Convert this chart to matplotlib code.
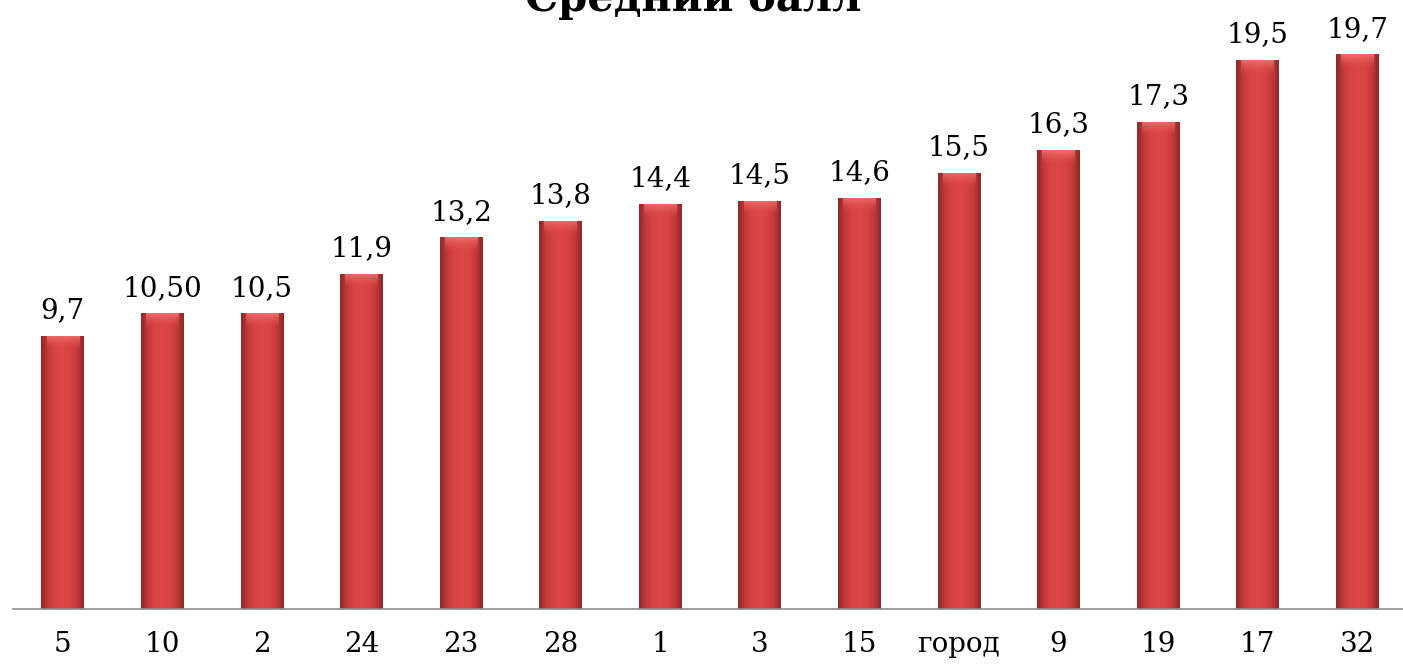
import matplotlib
matplotlib.use("Agg")
import matplotlib.pyplot as plt
import numpy as np
from matplotlib.colors import LinearSegmentedColormap

categories = ["5", "10", "2", "24", "23", "28", "1", "3", "15", "город", "9", "19", "17", "32"]
values = [9.7, 10.5, 10.5, 11.9, 13.2, 13.8, 14.4, 14.5, 14.6, 15.5, 16.3, 17.3, 19.5, 19.7]
value_labels = ["9,7", "10,50", "10,5", "11,9", "13,2", "13,8", "14,4", "14,5", "14,6",
                "15,5", "16,3", "17,3", "19,5", "19,7"]
title = "Средний балл"

plt.rcParams['font.family'] = ['DejaVu Serif', 'Liberation Serif']

W, H = 1403, 666
fig = plt.figure(figsize=(W / 100, H / 100), dpi=100)
ax = fig.add_axes([13 / W, (H - 609) / H, 1394 / W, 609 / H])
ax.set_xlim(-0.5, len(categories) - 0.5)
ax.set_ylim(0, 609 / 28.15)

bw = 0.43
cmap = LinearSegmentedColormap.from_list(
    "bar", ["#8e2a2a", "#c53a3a", "#d84444", "#dc4848", "#d84444", "#c53a3a", "#8e2a2a"])
grad = np.linspace(0, 1, 64).reshape(1, -1)
x = np.arange(len(categories))
bars = ax.bar(x, values, width=bw, color="none", edgecolor="none", zorder=2)
cmap2 = LinearSegmentedColormap.from_list("cap", [(0.86, 0.27, 0.27, 0.0), (0.95, 0.45, 0.45, 0.9)])
top = np.linspace(0, 1, 32).reshape(-1, 1)
for b in bars:
    x0, y0 = b.get_x(), b.get_y()
    w, h = b.get_width(), b.get_height()
    im = ax.imshow(grad, cmap=cmap, aspect="auto", extent=[x0, x0 + w, y0, y0 + h],
                   zorder=2, interpolation="bicubic")
    im.set_clip_path(b)
    cap = 0.55
    im2 = ax.imshow(top, cmap=cmap2, aspect="auto",
                    extent=[x0 + w * 0.12, x0 + w * 0.88, y0 + h - cap, y0 + h],
                    zorder=3, origin="lower", interpolation="bicubic")
    im2.set_clip_path(b)
ax.set_xlim(-0.5, len(categories) - 0.5)
ax.set_ylim(0, 609 / 28.15)

for xi, v, lab in zip(x, values, value_labels):
    ax.text(xi, v + 0.42, lab, ha="center", va="bottom", fontsize=20, color="black", zorder=4)

for s in ["top", "right", "left"]:
    ax.spines[s].set_visible(False)
ax.spines["bottom"].set_color("#8c8c8c")
ax.spines["bottom"].set_linewidth(1.2)
ax.set_yticks([])
ax.set_xticks(x)
ax.set_xticklabels(categories, fontsize=20)
ax.tick_params(axis="x", length=0, pad=16)

fig.text(693 / W, (H - 11) / H, title, ha="center", va="baseline",
         fontsize=30, fontweight="bold")

fig.savefig("out.png", dpi=100)
